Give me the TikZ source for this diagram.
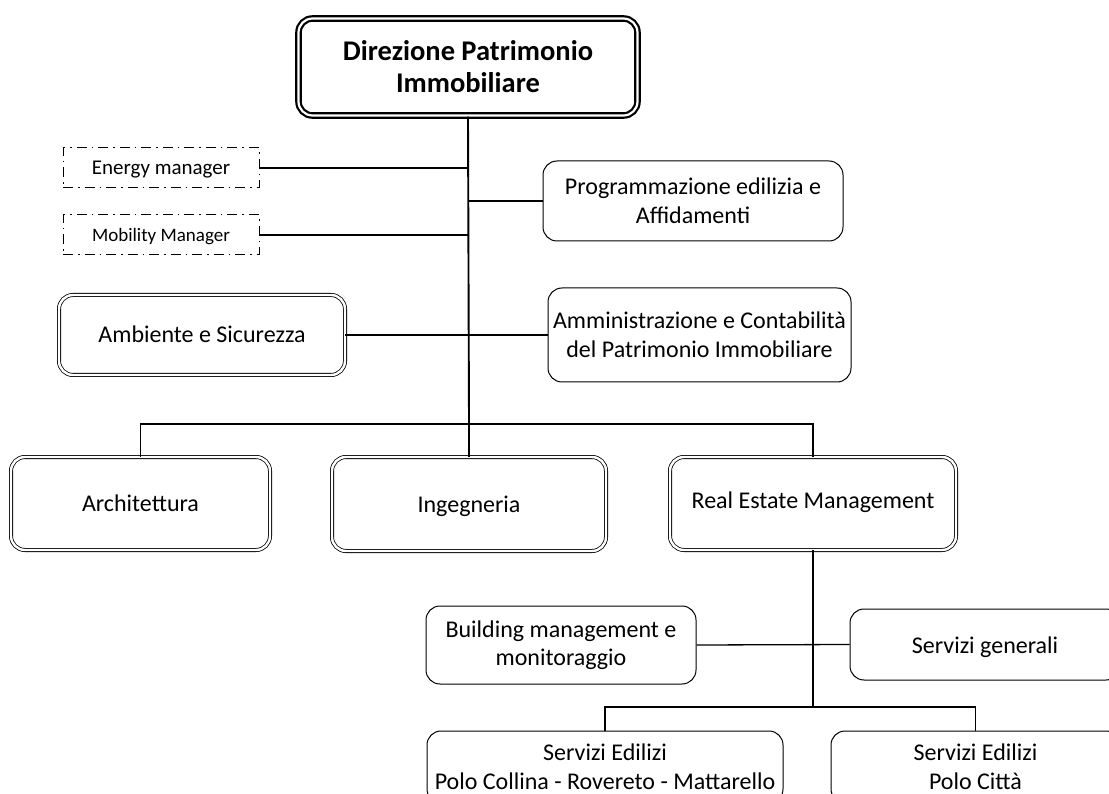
\documentclass[tikz,border=0pt]{standalone}
\usepackage{fontspec}
\setmainfont{Carlito}
\usetikzlibrary{calc}

\newcommand\onel[2][7.5pt]{\raisebox{-#1}[0pt][0pt]{#2}}

\tikzset{
  box/.style={draw=black,line width=1pt,rounded corners=14pt,fill=white,align=center,inner sep=2pt,
    font=\fontsize{24}{28.5}\selectfont},
  dbox/.style={box,line width=0.8pt,double=white,double distance=2.4pt},
  headbox/.style={box,line width=2.2pt,double=white,double distance=2.2pt,
    font=\bfseries\fontsize{28.5}{32}\selectfont},
  dashbox/.style={draw=black,line width=1pt,dash pattern=on 10pt off 5pt on 1.5pt off 5pt,
    align=center,inner sep=2pt},
  link/.style={line width=1.3pt},
  trunk/.style={line width=1.9pt}
}

\begin{document}
\begin{tikzpicture}[x=1pt,y=-1pt]
\useasboundingbox (0,0) rectangle (1109,794);
\clip (0,0) rectangle (1109,794);

% top level
\node[headbox,minimum width=339pt,minimum height=97pt] (dir) at (468,67) {Direzione Patrimonio\\Immobiliare};

% staff units
\node[dashbox,minimum width=196pt,minimum height=40pt,font=\fontsize{21}{25}\selectfont] (energy) at (161,168) {\onel[7pt]{Energy manager}};
\node[dashbox,minimum width=196pt,minimum height=40pt,font=\fontsize{19}{23}\selectfont] (mobility) at (161,235) {\onel[7pt]{Mobility Manager}};
\node[box,minimum width=300pt,minimum height=80pt] (prog) at (693,201) {Programmazione edilizia e\\Affidamenti};
\node[dbox,minimum width=286pt,minimum height=80pt] (amb) at (202,335) {\onel[8pt]{Ambiente e Sicurezza}};
\node[box,minimum width=303pt,minimum height=94pt] (amm) at (699.5,335) {Amministrazione e Contabilità\\del Patrimonio Immobiliare};

% areas
\coordinate (bus) at (469,424);
\node[dbox,minimum width=259pt,minimum height=93pt] (arch) at (140.5,503.5) {\onel{Architettura}};
\node[dbox,minimum width=274pt,minimum height=94pt] (ing) at (469,504) {\onel[8pt]{Ingegneria}};
\node[dbox,minimum width=286pt,minimum height=93pt] (rem) at (813,503.5) {\onel[4.5pt]{Real Estate Management}};

% real estate management units
\node[box,minimum width=270pt,minimum height=78pt] (bm) at (561,645) {Building management e\\monitoraggio};
\node[box,minimum width=270pt,minimum height=71pt] (sg) at (985,644.5) {\onel[8.5pt]{Servizi generali}};
\coordinate (bus2) at (813,707);
\node[box,minimum width=356pt,minimum height=72pt] (sec) at (605,767) {Servizi Edilizi\\Polo Collina - Rovereto - Mattarello};
\node[box,minimum width=289pt,minimum height=72pt] (spc) at (975.5,767) {Servizi Edilizi\\Polo Città};

\draw[trunk] (dir.south) -- (bus);
\draw[link] (energy.east) -- (energy.east -| bus);
\draw[link] (mobility.east) -- (mobility.east -| bus);
\draw[link] (prog.west) -- (prog.west -| bus);
\draw[link] (amb.east) -- (amm.west);
\draw[link] (arch.north) -- (arch.north |- bus) -| (rem.north);
\draw[link] (ing.north) -- (bus);

\draw[trunk] (rem.south) -- (bus2);
\draw[link] (bm.east) -- (sg.west);
\draw[link] (sec.north) -- (sec.north |- bus2) -| (spc.north);

\end{tikzpicture}
\end{document}
